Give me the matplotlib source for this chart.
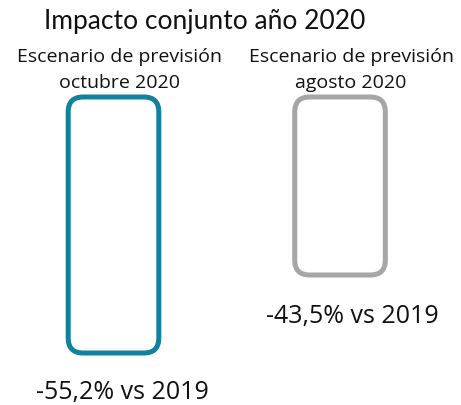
import numpy as np
import matplotlib.pyplot as plt
from matplotlib.patches import FancyBboxPatch

# datos
escenarios = ['Escenario de previsión\noctubre 2020', 'Escenario de previsión\nagosto 2020']
valores = [-55.2, -43.5]
etiquetas = ['-55,2% vs 2019', '-43,5% vs 2019']
colores = ['#12819B', '#A6A6A6']
titulo = 'Impacto conjunto año 2020'

plt.rcParams['font.family'] = ['Open Sans', 'DejaVu Sans']

fig = plt.figure(figsize=(4.61, 4.05), dpi=100)
ax = fig.add_axes([0, 0, 1, 1])
ax.set_xlim(-0.501, 1.534)
ax.set_ylim(-63.0, -2.25)
ax.axis('off')

inicio = -16.8   # eje truncado
ancho = 0.40
radio = 0.066
aspecto = 226.5 / 6.667

x = np.arange(len(valores))
for i in range(len(valores)):
    alto = valores[i] - inicio
    caja = FancyBboxPatch((x[i] - ancho / 2, valores[i]), ancho, -alto,
                          boxstyle='round,pad=0,rounding_size=%f' % radio,
                          mutation_aspect=aspecto,
                          fill=False, edgecolor=colores[i], linewidth=3.6)
    ax.add_patch(caja)
    ax.annotate(etiquetas[i], (x[i], valores[i]), xytext=(9 if i == 0 else 12, -39 if i == 0 else -42),
                textcoords='offset pixels', ha='center', va='center',
                fontsize=18, color='#111111')
    ax.annotate(escenarios[i], (x[i], -2.25), xytext=(6 if i == 0 else 11, -70),
                textcoords='offset pixels', ha='center', va='center',
                fontsize=14, color='#111111', linespacing=1.55)

fig.text(205 / 461, 1 - 22 / 405, titulo, ha='center', va='center',
         fontsize=19, color='#111111', family=['Lato', 'DejaVu Sans'])

fig.savefig('out.png', dpi=100)
